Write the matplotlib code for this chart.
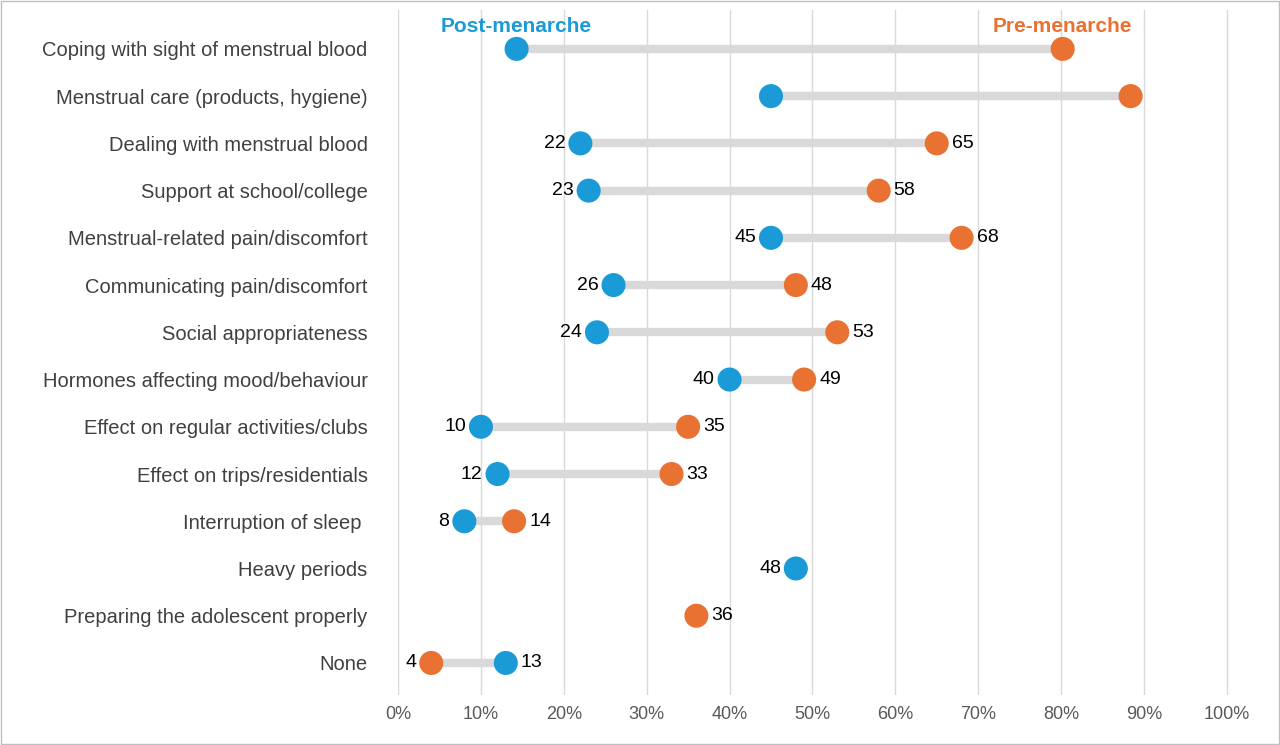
import matplotlib
matplotlib.use("Agg")
import matplotlib.pyplot as plt
import numpy as np

plt.rcParams['font.family'] = ['Liberation Sans', 'DejaVu Sans']

categories = ["Coping with sight of menstrual blood", "Menstrual care (products, hygiene)",
              "Dealing with menstrual blood", "Support at school/college",
              "Menstrual-related pain/discomfort", "Communicating pain/discomfort",
              "Social appropriateness", "Hormones affecting mood/behaviour",
              "Effect on regular activities/clubs", "Effect on trips/residentials",
              "Interruption of sleep ", "Heavy periods", "Preparing the adolescent properly", "None"]
post = [14.3, 45, 22, 23, 45, 26, 24, 40, 10, 12, 8, 48, None, 13]
pre = [80.2, 88.4, 65, 58, 68, 48, 53, 49, 35, 33, 14, None, 36, 4]
show_labels = [False, False] + [True] * 12

BLUE = "#1a9bd7"
ORANGE = "#e97132"

fig = plt.figure(figsize=(12.8, 7.45), dpi=100)
ax = fig.add_axes([0.311, 0.067, 0.65, 0.92])
for i, (a, b) in enumerate(zip(post, pre)):
    if a is not None and b is not None:
        ax.plot([a/100, b/100], [i, i], color="#d9d9d9", lw=6, zorder=2, solid_capstyle="butt")
    vals = [(v, c) for v, c in ((a, BLUE), (b, ORANGE)) if v is not None]
    for v, c in vals:
        ax.scatter(v/100, i, s=300, color=c, zorder=3, edgecolors="none")
    if show_labels[i]:
        if len(vals) == 2:
            lo, hi = sorted([vals[0][0], vals[1][0]])
            ax.text(lo/100 - 0.018, i, f"{round(lo)}", ha="right", va="center", fontsize=14)
            ax.text(hi/100 + 0.018, i, f"{round(hi)}", ha="left", va="center", fontsize=14)
        else:
            v, c = vals[0]
            if c == BLUE:
                ax.text(v/100 - 0.018, i, f"{round(v)}", ha="right", va="center", fontsize=14)
            else:
                ax.text(v/100 + 0.018, i, f"{round(v)}", ha="left", va="center", fontsize=14)

ax.text(post[0]/100, -0.48, "Post-menarche", color=BLUE, fontsize=15, fontweight="bold", ha="center", va="center")
ax.text(pre[0]/100, -0.48, "Pre-menarche", color=ORANGE, fontsize=15, fontweight="bold", ha="center", va="center")

ax.set_xlim(0, 1.004)
ax.set_ylim(13.68, -0.83)
ax.set_xticks(np.arange(0, 1.01, 0.1))
ax.set_xticklabels([f"{int(round(t*100))}%" for t in np.arange(0, 1.01, 0.1)], fontsize=13, color="#595959")
ax.set_yticks(range(len(categories)))
ax.set_yticklabels(categories, fontsize=14.5, color="#404040")
ax.tick_params(length=0, pad=22)
ax.tick_params(axis="x", pad=8)
ax.grid(axis="x", color="#d9d9d9", lw=1)
ax.set_axisbelow(True)
for s in ax.spines.values():
    s.set_visible(False)
fig.patches.append(plt.Rectangle((0.001, 0.001), 0.998, 0.998, transform=fig.transFigure,
                                 fill=False, edgecolor="#bfbfbf", lw=1))
fig.savefig("out.png", dpi=100)
